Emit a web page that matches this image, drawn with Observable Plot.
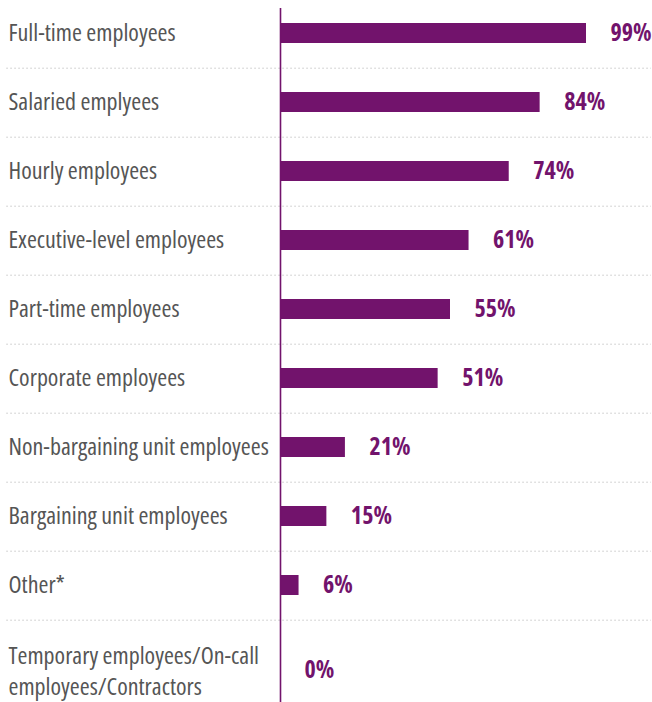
<!DOCTYPE html>
<html>
<head>
<meta charset="utf-8">
<script src="https://cdn.jsdelivr.net/npm/d3@7"></script>
<script src="https://cdn.jsdelivr.net/npm/@observablehq/plot@0.6"></script>
<style>
  html, body { margin: 0; padding: 0; background: #fff; }
  #chart svg { display: block; }
  #chart text { font-stretch: condensed; }
</style>
</head>
<body>
<div id="chart"></div>
<script>
const categories = [
  "Full-time employees",
  "Salaried emplyees",
  "Hourly employees",
  "Executive-level employees",
  "Part-time employees",
  "Corporate employees",
  "Non-bargaining unit employees",
  "Bargaining unit employees",
  "Other*",
  "Temporary employees/On-call\nemployees/Contractors"
];
const values = [99, 84, 74, 61, 55, 51, 21, 15, 6, 0];

const data = categories.map((c, i) => ({category: c, value: values[i]}));
const lastRow = data.slice(-1);
const mainRows = data.slice(0, -1);

const purple = "#72136c";
const textGray = "#555555";
const font = "'Open Sans', sans-serif";

const yRange = [-3, 691];
const step = (yRange[1] - yRange[0]) / categories.length;

const chart = Plot.plot({
  width: 652,
  height: 702,
  marginLeft: 280,
  marginRight: 0,
  marginTop: 8,
  marginBottom: 0,
  style: {fontFamily: font, background: "#fff"},
  x: {domain: [0, 99], range: [280, 586], axis: null},
  y: {domain: categories, range: yRange, paddingInner: 0.71, paddingOuter: 0.355, align: 0.5, axis: null},
  marks: [
    Plot.ruleY(categories.slice(0, -1), {
      y: d => d, x1: -88.5, x2: 120, dy: step / 2,
      stroke: "#b8b8b8", strokeWidth: 1, strokeDasharray: "1.2,2.8"
    }),
    Plot.barX(data, {x: "value", y: "category", fill: purple}),
    Plot.ruleX([0], {stroke: purple, strokeWidth: 1.6}),
    Plot.text(mainRows, {
      y: "category", text: "category", frameAnchor: "left", textAnchor: "start",
      dx: -272, fill: textGray, fontSize: 24
    }),
    Plot.text(lastRow, {
      y: "category", text: "category", frameAnchor: "left", textAnchor: "start",
      dx: -272, dy: 15, fill: textGray, fontSize: 24, lineHeight: 1.32
    }),
    Plot.text(mainRows, {
      x: "value", y: "category", text: d => d.value + "%", textAnchor: "start",
      dx: 24, fill: purple, fontSize: 24, fontWeight: "bold"
    }),
    Plot.text(lastRow, {
      x: "value", y: "category", text: d => d.value + "%", textAnchor: "start",
      dx: 24, dy: 16, fill: purple, fontSize: 24, fontWeight: "bold"
    })
  ]
});
document.getElementById("chart").append(chart);
</script>
</body>
</html>
